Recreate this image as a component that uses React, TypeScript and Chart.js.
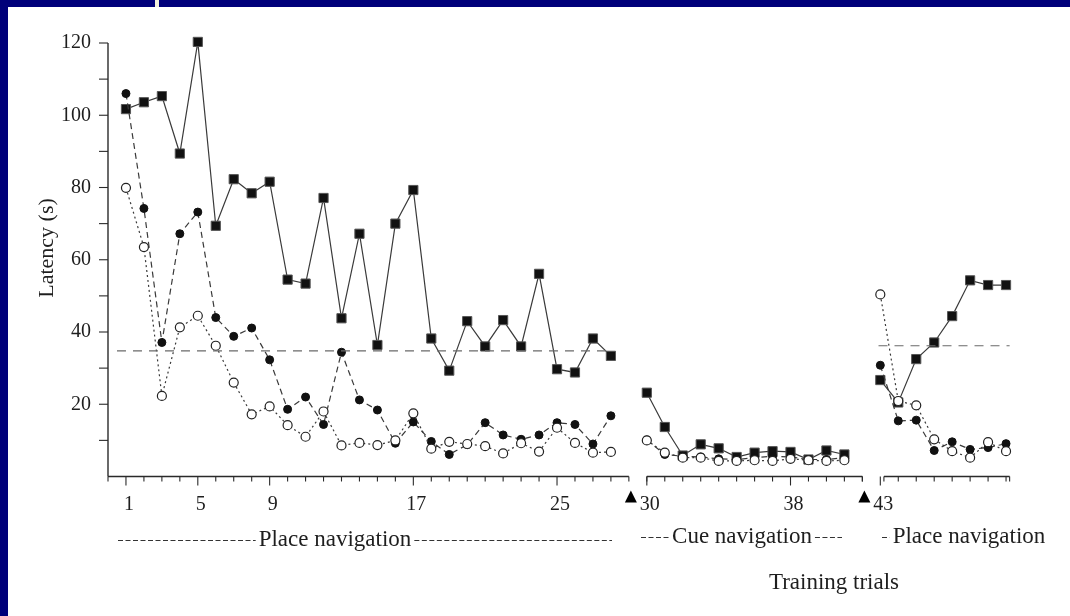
import React, { useEffect, useRef } from "react";
import { Chart, registerables } from "chart.js";

Chart.register(...registerables);

// ---- data ----
const trials = [
  1, 2, 3, 4, 5, 6, 7, 8, 9, 10, 11, 12, 13, 14, 15, 16, 17, 18, 19, 20, 21, 22, 23, 24, 25, 26, 27, 28,
  29, 30, 31, 32, 33, 34, 35, 36, 37, 38, 39, 40, 41, 42, 43, 44, 45, 46, 47, 48, 49, 50,
];
const squaresSeries = [
  101.7, 103.6, 105.3, 89.4, 120.3, 69.4, 82.3, 78.4, 81.6, 54.5, 53.4, 77.1, 43.8, 67.2, 36.4, 70, 79.3, 38.2,
  29.3, 43, 36, 43.3, 36, 56.1, 29.7, 28.8, 38.2, 33.4,
  null,
  23.2, 13.7, 5.8, 8.9, 7.8, 5.4, 6.6, 7, 6.8, 4.7, 7.2, 6.1,
  null,
  26.7, 20.5, 32.5, 37.1, 44.4, 54.3, 53, 53,
];
const filledSeries = [
  106, 74.2, 37.1, 67.2, 73.2, 44, 38.8, 41.1, 32.3, 18.6, 22, 14.4, 34.4, 21.2, 18.4, 9.2, 15.1, 9.7, 6.1, 8.8,
  14.9, 11.5, 10.3, 11.5, 14.9, 14.4, 9, 16.8,
  null,
  10.1, 6.1, 5.6, 5.4, 4.9, 4.7, 5.2, 5.6, 5.4, 4.7, 4.7, 5.2,
  null,
  30.8, 15.4, 15.6, 7.2, 9.6, 7.5, 8, 9.1,
];
const openSeries = [
  79.9, 63.5, 22.3, 41.3, 44.5, 36.2, 26, 17.2, 19.4, 14.2, 11, 18, 8.6, 9.3, 8.7, 10, 17.5, 7.7, 9.6, 9, 8.4,
  6.4, 9.2, 6.9, 13.5, 9.3, 6.6, 6.8,
  null,
  10, 6.6, 5.2, 5.2, 4.3, 4.3, 4.5, 4.3, 4.9, 4.5, 4.3, 4.5,
  null,
  50.4, 20.9, 19.7, 10.3, 7, 5.2, 9.5, 7,
];
// reference (criterion) dashed lines: [fromTrial, toTrial, level]
const refLine1 = [0.5, 28.1, 34.8];
const refLine2 = [42.9, 50.2, 36.2];

const yTicks = [20, 40, 60, 80, 100, 120];
const yMinorTicks = [10, 30, 50, 70, 90, 110];
const xTickLabels = [1, 5, 9, 17, 25, 30, 38, 43];
const segments = [
  [0, 29, 1, 28],
  [30, 42, 30, 42],
  [43.2, 50.2, 43, 50],
];
const probeTrials = [29, 42];
const panelLabels = ["Place navigation", "Cue navigation", "Place navigation"];
const yTitle = "Latency (s)";
const xTitle = "Training trials";

const INK = "#1e1e1e";
const SERIF = "'Liberation Serif', 'DejaVu Serif', serif";

const toPts = (vals: (number | null)[]) => trials.map((t, i) => ({ x: t, y: vals[i] }));

const framePlugin = {
  id: "frame",
  beforeDraw(chart: any) {
    const { ctx, width, height } = chart;
    ctx.save();
    ctx.fillStyle = "#ffffff";
    ctx.fillRect(0, 0, width, height);
    ctx.fillStyle = "#00007a";
    ctx.fillRect(0, 0, width, 7);
    ctx.fillRect(0, 0, 8, height);
    ctx.fillStyle = "#f2f0dc";
    ctx.fillRect(155, 0, 4, 7);
    ctx.restore();
  },
  afterDatasetsDraw(chart: any) {
    const { ctx } = chart;
    const xs = chart.scales.x;
    const ys = chart.scales.y;
    const px = (v: number) => xs.getPixelForValue(v);
    const py = (v: number) => ys.getPixelForValue(v);
    const x0 = px(0);
    const yb = py(0);
    ctx.save();
    ctx.strokeStyle = "#2a2a2a";
    ctx.lineWidth = 1.4;
    // y axis
    ctx.beginPath();
    ctx.moveTo(x0, py(120));
    ctx.lineTo(x0, yb);
    ctx.stroke();
    ctx.lineWidth = 1.1;
    [...yTicks, ...yMinorTicks].forEach((v) => {
      ctx.beginPath();
      ctx.moveTo(x0 - 9, py(v));
      ctx.lineTo(x0, py(v));
      ctx.stroke();
    });
    ctx.fillStyle = INK;
    ctx.font = `20px ${SERIF}`;
    ctx.textAlign = "right";
    ctx.textBaseline = "middle";
    yTicks.forEach((v) => ctx.fillText(String(v), x0 - 17, py(v)));

    // x axis segments
    segments.forEach(([a, b, t0, t1]) => {
      ctx.lineWidth = 1.4;
      ctx.beginPath();
      ctx.moveTo(px(a), yb);
      ctx.lineTo(px(b), yb);
      ctx.stroke();
      ctx.lineWidth = 1.1;
      const ends = [a, b];
      for (let t = t0; t <= t1; t++) {
        const major = xTickLabels.includes(t);
        ctx.beginPath();
        ctx.moveTo(px(t), yb);
        ctx.lineTo(px(t), yb + (major ? 9 : 5));
        ctx.stroke();
      }
      ends.forEach((e) => {
        ctx.beginPath();
        ctx.moveTo(px(e), yb);
        ctx.lineTo(px(e), yb + 5);
        ctx.stroke();
      });
    });
    ctx.textAlign = "center";
    xTickLabels.forEach((t) => ctx.fillText(String(t), px(t) + 3, yb + 28));

    // probe triangles
    ctx.fillStyle = "#000";
    probeTrials.forEach((t) => {
      const cx = px(t) + 2;
      const ty = yb + 14;
      ctx.beginPath();
      ctx.moveTo(cx, ty);
      ctx.lineTo(cx + 6, ty + 12);
      ctx.lineTo(cx - 6, ty + 12);
      ctx.closePath();
      ctx.fill();
    });

    // panel labels with dashed leaders
    ctx.font = `23px ${SERIF}`;
    ctx.fillStyle = INK;
    ctx.textBaseline = "middle";
    const labelRow = (text: string, cx: number, left: number, right: number, y: number) => {
      const w = ctx.measureText(text).width;
      ctx.fillText(text, cx, y);
      ctx.save();
      ctx.setLineDash([5, 2.5]);
      ctx.lineWidth = 1.2;
      ctx.strokeStyle = "#333";
      if (left < cx - w / 2 - 3) {
        ctx.beginPath();
        ctx.moveTo(left, y + 1);
        ctx.lineTo(cx - w / 2 - 3, y + 1);
        ctx.stroke();
      }
      if (right > cx + w / 2 + 3) {
        ctx.beginPath();
        ctx.moveTo(cx + w / 2 + 3, y + 1);
        ctx.lineTo(right, y + 1);
        ctx.stroke();
      }
      ctx.restore();
    };
    labelRow(panelLabels[0], 335, 118, 612, yb + 63);
    labelRow(panelLabels[1], 742, 641, 842, yb + 60);
    labelRow(panelLabels[2], 969, 882, 888, yb + 60);

    // titles
    ctx.font = `23px ${SERIF}`;
    ctx.fillText(xTitle, 834, yb + 106);
    ctx.save();
    ctx.translate(47, 248);
    ctx.rotate(-Math.PI / 2);
    ctx.font = `22px ${SERIF}`;
    ctx.fillText(yTitle, 0, 0);
    ctx.restore();
    ctx.restore();
  },
};

export default function App() {
  const ref = useRef<HTMLCanvasElement | null>(null);
  useEffect(() => {
    document.body.style.margin = "0";
    const canvas = ref.current;
    if (!canvas) return;
    const lineCol = "#3a3a3a";
    const chart = new Chart(canvas, {
      type: "line",
      data: {
        datasets: [
          {
            label: "criterion 1",
            data: [
              { x: refLine1[0], y: refLine1[2] },
              { x: refLine1[1], y: refLine1[2] },
            ],
            borderColor: "#6a6a6a",
            borderWidth: 1.2,
            borderDash: [9, 7],
            pointRadius: 0,
            clip: false,
          },
          {
            label: "criterion 2",
            data: [
              { x: refLine2[0], y: refLine2[2] },
              { x: refLine2[1], y: refLine2[2] },
            ],
            borderColor: "#6a6a6a",
            borderWidth: 1.2,
            borderDash: [9, 7],
            pointRadius: 0,
            clip: false,
          },
          {
            label: "open circles",
            data: toPts(openSeries),
            borderColor: lineCol,
            borderWidth: 1.2,
            borderDash: [2, 3],
            pointStyle: "circle",
            pointRadius: 4.5,
            pointBackgroundColor: "#ffffff",
            pointBorderColor: "#222",
            pointBorderWidth: 1.2,
            spanGaps: false,
            clip: false,
          },
          {
            label: "filled circles",
            data: toPts(filledSeries),
            borderColor: lineCol,
            borderWidth: 1.2,
            borderDash: [6, 4],
            pointStyle: "circle",
            pointRadius: 4,
            pointBackgroundColor: "#111",
            pointBorderColor: "#111",
            pointBorderWidth: 1,
            spanGaps: false,
            clip: false,
          },
          {
            label: "squares",
            data: toPts(squaresSeries),
            borderColor: lineCol,
            borderWidth: 1.2,
            pointStyle: "rect",
            pointRadius: 6.5,
            pointBackgroundColor: "#111",
            pointBorderColor: "#555",
            pointBorderWidth: 1,
            spanGaps: false,
            clip: false,
          },
        ],
      },
      options: {
        animation: false,
        responsive: false,
        maintainAspectRatio: false,
        layout: { padding: { left: 108, right: 46, top: 43, bottom: 139.5 } },
        scales: {
          x: { type: "linear", min: 0, max: 51, display: false },
          y: { type: "linear", min: 0, max: 120, display: false },
        },
        plugins: { legend: { display: false }, tooltip: { enabled: false } },
        elements: { line: { tension: 0 } },
      },
      plugins: [framePlugin],
    });
    return () => chart.destroy();
  }, []);
  return (
    <div style={{ position: "absolute", left: 0, top: 0, width: 1070, height: 616 }}>
      <canvas ref={ref} width={1070} height={616} style={{ display: "block", width: 1070, height: 616 }} />
    </div>
  );
}
